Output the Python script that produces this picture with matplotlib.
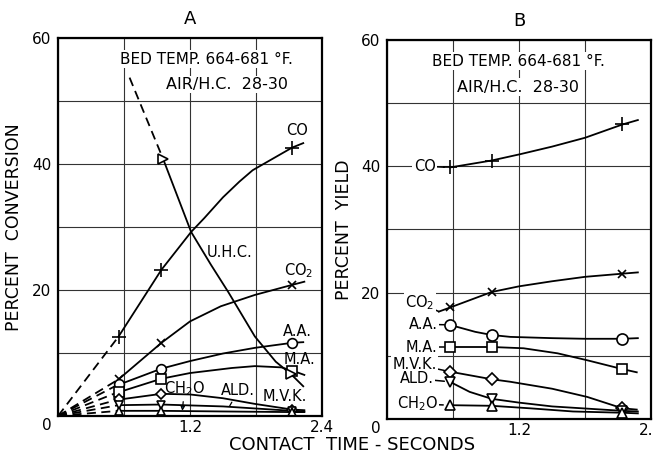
import matplotlib.pyplot as plt

# ---- panel A : percent conversion ----
# dashed extrapolations from the origin to the first marker
a_dash_x = [0, 0.55]
a_co_dash = [0, 12.6]
a_co2_dash = [0, 5.8]
a_aa_dash = [0, 5.0]
a_ma_dash = [0, 3.8]
a_mvk_dash = [0, 2.6]
a_ald_dash = [0, 1.7]
a_ch2o_dash = [0, 0.8]

# solid curves
a_co_x = [0.55, 0.94, 1.21, 1.33, 1.5, 1.65, 1.77, 2.0, 2.13, 2.23]
a_co_y = [12.6, 23.2, 29.2, 31.4, 34.7, 37.2, 39.0, 41.3, 42.6, 43.3]
a_uhc_dash_x = [0.65, 0.955]
a_uhc_dash_y = [53.7, 40.8]
a_uhc_x = [0.955, 1.21, 1.39, 1.55, 1.79, 1.98, 2.12, 2.23]
a_uhc_y = [40.8, 29.2, 24.0, 19.6, 12.6, 8.6, 6.6, 4.7]
a_co2_x = [0.55, 0.94, 1.2, 1.48, 1.79, 2.13, 2.24]
a_co2_y = [5.8, 11.6, 15.0, 17.4, 19.2, 20.8, 21.3]
a_aa_x = [0.56, 0.94, 1.2, 1.5, 1.79, 2.13, 2.23]
a_aa_y = [5.0, 7.5, 8.7, 9.9, 10.8, 11.6, 11.7]
a_ma_x = [0.56, 0.94, 1.2, 1.58, 1.79, 2.03, 2.13, 2.24]
a_ma_y = [3.8, 5.9, 6.8, 7.6, 7.9, 7.7, 7.2, 6.5]
a_mvk_x = [0.56, 0.94, 1.2, 1.5, 1.79, 2.13, 2.24]
a_mvk_y = [2.6, 3.5, 3.4, 2.8, 1.9, 1.0, 0.9]
a_ald_x = [0.56, 0.94, 1.5, 2.13, 2.24]
a_ald_y = [1.7, 1.8, 1.5, 0.8, 0.7]
a_ch2o_x = [0.56, 0.94, 1.5, 2.13, 2.24]
a_ch2o_y = [0.8, 0.8, 0.7, 0.6, 0.6]

# marker points
a_mark_x = [0.55, 0.94, 2.13]
a_co_m = [12.6, 23.2, 42.6]
a_co2_m = [5.8, 11.6, 20.8]
a_aa_m = [5.0, 7.5, 11.6]
a_ma_m = [3.8, 5.9, 7.2]
a_mvk_m = [2.6, 3.5, 1.0]
a_ald_m = [1.7, 1.8, 0.8]
a_ch2o_m = [0.8, 0.8, 0.6]
a_uhc_mx = [0.955, 2.12]
a_uhc_my = [40.8, 6.6]

# ---- panel B : percent yield ----
b_mark_x = [0.57, 0.95, 2.14]
b_co_x = [0.57, 0.95, 1.21, 1.5, 1.8, 2.14, 2.28]
b_co_y = [39.8, 40.9, 41.9, 43.1, 44.5, 46.6, 47.3]
b_co_m = [39.8, 40.9, 46.6]
b_co2_x = [0.47, 0.58, 0.95, 1.2, 1.5, 1.8, 2.14, 2.28]
b_co2_y = [17.0, 17.7, 20.1, 21.0, 21.8, 22.5, 23.0, 23.2]
b_co2_m = [17.7, 20.1, 23.0]
b_aa_x = [0.57, 0.8, 0.95, 1.12, 1.5, 1.8, 2.14, 2.28]
b_aa_y = [14.9, 13.8, 13.3, 13.0, 12.8, 12.7, 12.7, 12.8]
b_aa_m = [14.9, 13.3, 12.7]
b_ma_x = [0.57, 0.95, 1.24, 1.55, 1.82, 2.14, 2.27]
b_ma_y = [11.4, 11.4, 11.2, 10.4, 9.3, 7.9, 7.4]
b_ma_m = [11.4, 11.4, 7.9]
b_mvk_x = [0.57, 0.95, 1.12, 1.5, 1.82, 2.14, 2.27]
b_mvk_y = [7.5, 6.3, 5.9, 4.8, 3.5, 1.7, 1.5]
b_mvk_m = [7.5, 6.3, 1.7]
b_ald_x = [0.57, 0.75, 0.95, 1.2, 1.5, 2.14, 2.28]
b_ald_y = [5.9, 4.3, 3.2, 2.6, 2.0, 1.3, 1.2]
b_ald_m = [5.9, 3.2, 1.3]
b_ch2o_x = [0.56, 0.95, 1.3, 1.69, 2.14, 2.28]
b_ch2o_y = [2.2, 2.1, 1.7, 1.2, 1.0, 0.9]
b_ch2o_m = [2.2, 2.1, 1.0]

LW = 1.3
ms_kw = dict(color='black', mfc='white', mec='black', mew=1.2, lw=0)

fig = plt.figure(figsize=(6.53, 4.57), dpi=100)
axA = fig.add_axes([0.089, 0.09, 0.404, 0.827])
axB = fig.add_axes([0.593, 0.083, 0.404, 0.83])


def setup(ax, title):
    ax.set_xlim(0, 2.4)
    ax.set_ylim(0, 60)
    ax.set_xticks([0, 0.6, 1.2, 1.8, 2.4])
    ax.set_xticklabels(['', '', '1.2', '', '2.4'])
    ax.set_yticks([0, 10, 20, 30, 40, 50, 60])
    ax.set_yticklabels(['', '', '20', '', '40', '', '60'])
    ax.tick_params(length=0, labelsize=11)
    ax.tick_params(axis='y', pad=5)
    ax.tick_params(axis='x', pad=3)
    ax.grid(True, color='#333333', lw=0.8)
    for s in ax.spines.values():
        s.set_linewidth(1.6)
    ax.set_title(title, fontsize=13, pad=10)
    # single zero at the corner
    ax.text(-0.042, -0.026, '0', transform=ax.transAxes, ha='center', va='center', fontsize=11)


setup(axA, 'A')
setup(axB, 'B')

# panel A curves
for dy in [a_co_dash, a_co2_dash, a_aa_dash, a_ma_dash, a_mvk_dash, a_ald_dash, a_ch2o_dash]:
    axA.plot(a_dash_x, dy, 'k--', lw=LW, dashes=(5, 3))
axA.plot(a_uhc_dash_x, a_uhc_dash_y, 'k--', lw=LW, dashes=(5, 3))
for x, y in [(a_co_x, a_co_y), (a_uhc_x, a_uhc_y), (a_co2_x, a_co2_y), (a_aa_x, a_aa_y),
             (a_ma_x, a_ma_y), (a_mvk_x, a_mvk_y), (a_ald_x, a_ald_y), (a_ch2o_x, a_ch2o_y)]:
    axA.plot(x, y, 'k-', lw=LW)
axA.plot(a_mark_x, a_co_m, marker='+', ms=10, **ms_kw)
axA.plot(a_mark_x, a_co2_m, marker='x', ms=6, **ms_kw)
axA.plot(a_mark_x, a_aa_m, marker='o', ms=7, **ms_kw)
axA.plot(a_mark_x, a_ma_m, marker='s', ms=6.5, **ms_kw)
axA.plot(a_mark_x, a_mvk_m, marker='D', ms=5, **ms_kw)
axA.plot(a_mark_x, a_ald_m, marker='v', ms=6, **ms_kw)
axA.plot(a_mark_x, a_ch2o_m, marker='^', ms=6, **ms_kw)
axA.plot(a_uhc_mx, a_uhc_my, marker='>', ms=7, **ms_kw)

# panel B curves
for x, y in [(b_co_x, b_co_y), (b_co2_x, b_co2_y), (b_aa_x, b_aa_y), (b_ma_x, b_ma_y),
             (b_mvk_x, b_mvk_y), (b_ald_x, b_ald_y), (b_ch2o_x, b_ch2o_y)]:
    axB.plot(x, y, 'k-', lw=LW)
axB.plot(b_mark_x, b_co_m, marker='+', ms=10, **ms_kw)
axB.plot(b_mark_x, b_co2_m, marker='x', ms=6, **ms_kw)
axB.plot(b_mark_x, b_aa_m, marker='o', ms=8, **ms_kw)
axB.plot(b_mark_x, b_ma_m, marker='s', ms=7, **ms_kw)
axB.plot(b_mark_x, b_mvk_m, marker='D', ms=6, **ms_kw)
axB.plot(b_mark_x, b_ald_m, marker='v', ms=7, **ms_kw)
axB.plot(b_mark_x, b_ch2o_m, marker='^', ms=7, **ms_kw)

# header texts
wb = dict(facecolor='white', edgecolor='none', pad=1)
axA.text(1.35, 56.6, 'BED TEMP. 664-681 °F.', ha='center', va='center', fontsize=11, bbox=wb)
axA.text(1.54, 52.6, 'AIR/H.C.  28-30', ha='center', va='center', fontsize=11.5, bbox=wb)
axB.text(1.19, 56.6, 'BED TEMP. 664-681 °F.', ha='center', va='center', fontsize=11, bbox=wb)
axB.text(1.19, 52.5, 'AIR/H.C.  28-30', ha='center', va='center', fontsize=11.5, bbox=wb)

# panel A labels
lab = dict(fontsize=10.5, ha='center', va='center')
axA.text(2.17, 45.3, 'CO', **lab)
axA.text(1.56, 26.0, 'U.H.C.', **lab)
axA.text(2.19, 23.0, 'CO$_2$', **lab)
axA.text(2.18, 13.4, 'A.A.', **lab)
axA.text(2.2, 9.0, 'M.A.', **lab)
axA.text(2.06, 3.0, 'M.V.K.', **lab)
axA.annotate('ALD.', xy=(1.56, 1.55), xytext=(1.64, 4.0), ha='center', va='center', fontsize=10.5,
             arrowprops=dict(arrowstyle='-', lw=0.9, shrinkA=1, shrinkB=0))
axA.annotate('CH$_2$O', xy=(1.13, 0.8), xytext=(1.15, 4.4), ha='center', va='center', fontsize=10.5,
             arrowprops=dict(arrowstyle='-|>', lw=0.9, mutation_scale=6, shrinkA=1, shrinkB=0))

# panel B labels (left of the first markers, with short leaders)
lead = dict(arrowstyle='-', lw=1.1, shrinkA=0, shrinkB=4)
labr = dict(fontsize=10.5, ha='right', va='center', bbox=wb, arrowprops=lead)
axB.annotate('CO', xy=(0.57, 39.8), xytext=(0.44, 40.0), **labr)
axB.annotate('CO$_2$', xy=(0.47, 17.0), xytext=(0.43, 18.4), **labr)
axB.annotate('A.A.', xy=(0.57, 14.9), xytext=(0.46, 15.0), **labr)
axB.annotate('M.A.', xy=(0.57, 11.4), xytext=(0.46, 11.4), **labr)
axB.annotate('M.V.K.', xy=(0.57, 7.5), xytext=(0.45, 8.7), **labr)
axB.annotate('ALD.', xy=(0.57, 5.9), xytext=(0.42, 6.4), **labr)
axB.annotate('CH$_2$O', xy=(0.56, 2.2), xytext=(0.46, 2.4), **labr)

axA.set_ylabel('PERCENT  CONVERSION', fontsize=12.5, labelpad=6)
axB.set_ylabel('PERCENT  YIELD', fontsize=12.5, labelpad=6)
fig.text(0.539, 0.026, 'CONTACT  TIME - SECONDS', ha='center', va='center', fontsize=13)

fig.savefig('out.png', dpi=100)
